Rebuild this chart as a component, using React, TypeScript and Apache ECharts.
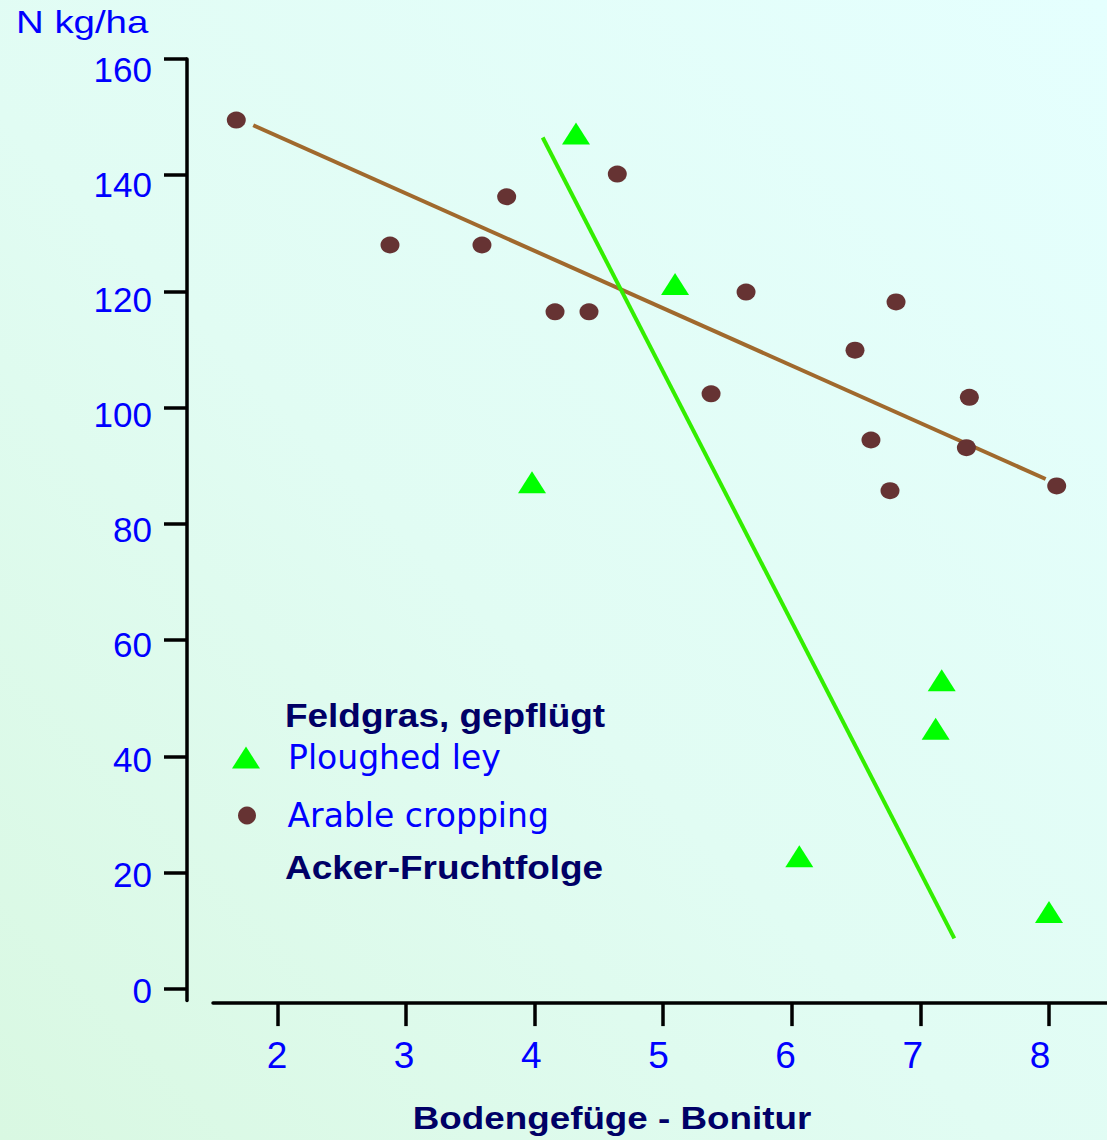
import { useEffect, useRef } from "react";
import * as echarts from "echarts";

// ---- data ----
const xTickValues = [2, 3, 4, 5, 6, 7, 8];
const yTickValues = [0, 20, 40, 60, 80, 100, 120, 140, 160];

const arableX = [1.681, 2.876, 3.591, 3.783, 4.159, 4.423, 4.643, 5.372, 5.644, 6.491, 6.615, 6.763, 6.81, 7.357, 7.38, 8.059];
const arableY = [149.5, 128.0, 128.0, 136.3, 116.5, 116.5, 140.2, 102.4, 119.9, 109.9, 94.45, 85.73, 118.2, 93.13, 101.8, 86.54];

const leyX = [3.98, 4.322, 5.092, 6.058, 7.118, 7.165, 7.999];
const leyY = [87.2, 147.2, 121.3, 22.85, 44.77, 53.1, 13.25];

const arableTrendX = [1.813, 7.973];
const arableTrendY = [148.6, 87.74];
const leyTrendX = [4.063, 7.263];
const leyTrendY = [146.5, 8.72];

const legendNames = ["Ploughed ley", "Arable cropping"];
const legendHeadings = ["Feldgras, gepflügt", "Acker-Fruchtfolge"];
const yAxisName = "N kg/ha";
const xAxisName = "Bodengefüge - Bonitur";

const FONT = '"Liberation Sans", Arial, Helvetica, sans-serif';
const LEGEND_FONT = '"DejaVu Sans", "Liberation Sans", sans-serif';
const BLUE = "#0000ff";
const NAVY = "#000066";

const pairs = (xs: number[], ys: number[]) => xs.map((x, i) => [x, ys[i]]);

export default function App() {
  const ref = useRef<HTMLDivElement>(null);

  useEffect(() => {
    if (!ref.current) return;
    const chart = echarts.init(ref.current, null, { renderer: "svg" });

    const option: any = {
      animation: false,
      backgroundColor: "transparent",
      grid: { left: 213, right: 0, top: 59, bottom: 139.4, containLabel: false, outerBoundsMode: "none" },
      xAxis: [
        {
          type: "value",
          min: 1.5,
          max: 8.45,
          position: "bottom",
          offset: 2.5,
          axisLine: { show: true, onZero: false, lineStyle: { color: "#000", width: 3.5 } },
          axisTick: { show: true, inside: false, length: 23, customValues: xTickValues, lineStyle: { color: "#000", width: 3.5 } },
          axisLabel: { show: false },
          splitLine: { show: false },
        },
        {
          type: "value",
          min: 1.497,
          max: 8.527,
          position: "bottom",
          offset: 2.5,
          axisLine: { show: false, onZero: false },
          axisTick: { show: false },
          axisLabel: { show: true, customValues: xTickValues, margin: 34, fontSize: 37, color: BLUE, fontFamily: FONT },
          splitLine: { show: false },
        },
      ],
      yAxis: [
        {
          type: "value",
          min: -2,
          max: 160,
          position: "left",
          offset: 26,
          axisLine: { show: true, onZero: false, lineStyle: { color: "#000", width: 3.5 } },
          axisTick: { show: true, inside: false, length: 23, customValues: yTickValues, lineStyle: { color: "#000", width: 3.5 } },
          axisLabel: { show: false },
          splitLine: { show: false },
        },
        {
          type: "value",
          min: -1.84,
          max: 161.74,
          position: "left",
          offset: 26,
          axisLine: { show: false, onZero: false },
          axisTick: { show: false },
          axisLabel: { show: true, customValues: yTickValues, margin: 35, fontSize: 35, color: BLUE, fontFamily: FONT },
          splitLine: { show: false },
        },
      ],
      legend: [
        {
          show: true,
          data: [{ name: legendNames[0], icon: "triangle" }],
          left: 232,
          top: 741,
          orient: "vertical",
          itemWidth: 28,
          itemHeight: 22,
          padding: 0,
          symbolKeepAspect: false,
          selectedMode: false,
          itemStyle: { opacity: 1 },
          textStyle: { fontSize: 33, color: BLUE, fontFamily: LEGEND_FONT, lineHeight: 22, padding: [0, 0, 6, 23] },
        },
        {
          show: true,
          data: [{ name: legendNames[1], icon: "circle" }],
          left: 238,
          top: 799,
          orient: "vertical",
          itemWidth: 19,
          itemHeight: 18,
          padding: 0,
          symbolKeepAspect: false,
          selectedMode: false,
          itemStyle: { opacity: 1 },
          textStyle: { fontSize: 33, color: BLUE, fontFamily: LEGEND_FONT, lineHeight: 18, padding: [0, 0, 6, 26] },
        },
      ],
      graphic: [
        {
          type: "text",
          x: 16,
          y: 21.5,
          scaleX: 1.2,
          style: { text: yAxisName, fontSize: 32, fill: BLUE, fontFamily: FONT, align: "left", verticalAlign: "middle" },
        },
        {
          type: "text",
          x: 612,
          y: 1118,
          scaleX: 1.15,
          style: { text: xAxisName, fontSize: 32, fontWeight: "bold", fill: NAVY, fontFamily: FONT, align: "center", verticalAlign: "middle" },
        },
        {
          type: "text",
          x: 285,
          y: 715,
          scaleX: 1.12,
          style: { text: legendHeadings[0], fontSize: 33, fontWeight: "bold", fill: NAVY, fontFamily: FONT, align: "left", verticalAlign: "middle" },
        },
        {
          type: "text",
          x: 285,
          y: 867.5,
          scaleX: 1.12,
          style: { text: legendHeadings[1], fontSize: 33, fontWeight: "bold", fill: NAVY, fontFamily: FONT, align: "left", verticalAlign: "middle" },
        },
      ],
      series: [
        {
          type: "line",
          name: "Arable trend",
          xAxisIndex: 0,
          yAxisIndex: 0,
          data: pairs(arableTrendX, arableTrendY),
          symbol: "none",
          lineStyle: { color: "#a0692d", width: 4 },
          z: 2,
          silent: true,
        },
        {
          type: "line",
          name: "Ley trend",
          xAxisIndex: 0,
          yAxisIndex: 0,
          data: pairs(leyTrendX, leyTrendY),
          symbol: "none",
          lineStyle: { color: "#33ee00", width: 4 },
          z: 3,
          silent: true,
        },
        {
          type: "scatter",
          name: legendNames[1],
          xAxisIndex: 0,
          yAxisIndex: 0,
          data: pairs(arableX, arableY),
          symbol: "circle",
          symbolSize: [19, 17],
          itemStyle: { color: "#663333", opacity: 1 },
          z: 4,
        },
        {
          type: "scatter",
          name: legendNames[0],
          xAxisIndex: 0,
          yAxisIndex: 0,
          data: pairs(leyX, leyY),
          symbol: "triangle",
          symbolSize: [28, 22],
          itemStyle: { color: "#00ff00", opacity: 1 },
          z: 5,
        },
      ],
    };

    chart.setOption(option);
    return () => chart.dispose();
  }, []);

  return (
    <div
      ref={ref}
      style={{
        position: "fixed",
        left: 0,
        top: 0,
        width: 1107,
        height: 1140,
        background: "linear-gradient(to top right, #d9f8e2 0%, #e1fcf3 45%, #e5fffe 100%)",
      }}
    />
  );
}
